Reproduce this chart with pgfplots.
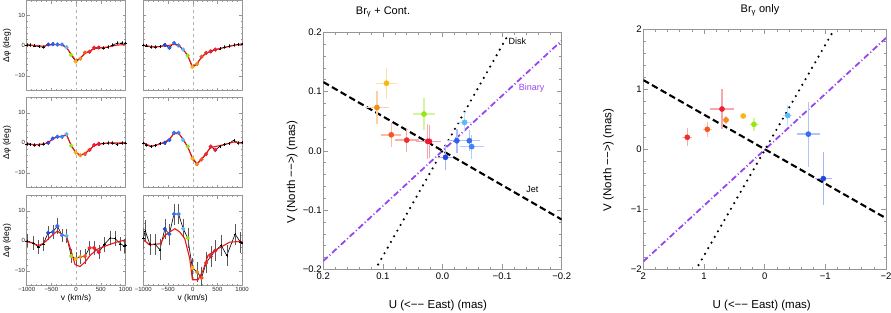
\documentclass[border=0pt]{standalone}
\usepackage{pgfplots}
\pgfplotsset{compat=1.18}
\usepackage{fontspec}
\setmainfont{Liberation Sans}
\definecolor{cA}{RGB}{35,70,225}
\definecolor{cB}{RGB}{45,95,235}
\definecolor{cC}{RGB}{55,110,240}
\definecolor{cD}{RGB}{65,130,245}
\definecolor{cE}{RGB}{90,185,250}
\definecolor{cF}{RGB}{150,230,20}
\definecolor{cG}{RGB}{250,180,20}
\definecolor{cH}{RGB}{245,140,25}
\definecolor{cI}{RGB}{245,85,30}
\definecolor{cJ}{RGB}{240,45,40}
\definecolor{cK}{RGB}{240,30,50}
\definecolor{cL}{RGB}{235,25,55}
\definecolor{fr}{RGB}{150,150,150}
\definecolor{binc}{RGB}{150,70,240}
\definecolor{modred}{RGB}{240,20,20}
\pgfplotsset{
 smallp/.style={
  scale only axis, width=98.8pt, height=90pt, anchor=north west,
  xmin=-1000, xmax=1000, ymin=-15, ymax=15,
  xtick={-1000,-500,0,500,1000}, ytick={-10,0,10},
  minor x tick num=4, minor y tick num=4,
  xticklabels={}, yticklabels={},
  tick align=inside,
  axis line style={draw=fr, line width=0.6pt},
  every tick/.style={fr, line width=0.4pt},
  major tick length=3pt, minor tick length=1.6pt,
  tick label style={font=\fontsize{6}{7}\selectfont, text=black!85, inner sep=1.5pt},
  label style={font=\fontsize{8.5}{9}\selectfont},
  ylabel style={at={(axis description cs:-0.2,0.5)}, anchor=center},
  xlabel style={at={(axis description cs:0.5,-0.145)}, anchor=center},
 },
 leftcol/.style={yticklabels={−10,0,10}, ylabel={Δφ (deg)}},
 botrow/.style={xticklabels={−1000,−500,0,500,1000}, xlabel={v (km/s)}},
 blk/.style={black, line width=0.6pt, mark=+, mark size=1.2pt, mark options={line width=0.35pt},
   error bars/.cd, y dir=both, y explicit, error bar style={black!65, line width=0.35pt}, error mark=none},
 mdl/.style={modred, line width=1.1pt},
 zl/.style={gray!60, dashed, line width=0.4pt},
 colpts/.style={scatter, only marks, scatter src=explicit symbolic, mark=*, mark size=1.9pt,
   scatter/classes={a={draw=cA,fill=cA}, b={draw=cB,fill=cB}, c={draw=cC,fill=cC}, d={draw=cD,fill=cD},
   e={draw=cE,fill=cE}, f={draw=cF,fill=cF}, g={draw=cG,fill=cG}, h={draw=cH,fill=cH},
   i={draw=cI,fill=cI}, j={draw=cJ,fill=cJ}, k={draw=cK,fill=cK}, l={draw=cL,fill=cL}}},
 bigp/.style={
  scale only axis, anchor=north west,
  ymin=-0.2, ymax=0.2, x dir=reverse,
  minor x tick num=4, minor y tick num=4,
  tick align=inside,
  axis line style={draw=fr, line width=0.7pt},
  every tick/.style={fr, line width=0.5pt},
  major tick length=5pt, minor tick length=2.5pt,
  tick label style={font=\fontsize{9.5}{11}\selectfont, inner sep=1.5pt},
  xticklabel style={yshift=-2pt},
  label style={font=\fontsize{11.5}{13}\selectfont},
  xlabel={U (<−− East) (mas)}, ylabel={V (North −−>) (mas)},
 },
 jet/.style={black, line width=2.1pt, dash pattern=on 6.5pt off 3.5pt},
 bin/.style={binc, line width=1.8pt, dash pattern=on 6pt off 2.5pt on 1pt off 2.5pt},
 dsk/.style={black, line width=2.4pt, line cap=round, dash pattern=on 0pt off 6.5pt},
}
\newcommand{\errpt}[3]{\addplot[only marks, mark=*, mark size=2.6pt, color=#1,
  error bars/.cd, x dir=both, x explicit, y dir=both, y explicit,
  error bar style={draw=#1!40!white, line width=1.4pt}, error mark=none]
  coordinates {(#2) +- (#3)};}
\begin{document}
\begin{tikzpicture}
\useasboundingbox (0pt,0pt) rectangle (891pt,-313pt);
% ---------- panel 1
\begin{axis}[smallp, leftcol, at={(26.7pt,-0.7pt)}]
\addplot[zl] coordinates {(0,-15) (0,15)};
\addplot[blk] table[x=v,y=p,y error=e,row sep=\\]{v p e\\
-1000 0.3 0.6\\ -937 0.2 0.6\\ -844 0.0 0.6\\ -751 -0.3 0.6\\ -658 -0.5 0.6\\ -565 0.4 0.6\\ -472 0.5 0.6\\ -379 0.4 0.6\\ -286 0.4 0.6\\ -193 -0.5 0.6\\ -100 -3.1 0.6\\ -7 -5.3 0.6\\ 86 -4.3 0.6\\ 179 -2.3 0.6\\ 272 -2.0 0.6\\ 365 -0.7 0.6\\ 458 -0.6 0.6\\ 551 -0.8 0.6\\ 644 -0.5 0.6\\ 737 0.2 0.6\\ 830 0.8 0.6\\ 923 0.9 0.6\\ 1000 0.8 0.6\\};
\addplot[mdl] coordinates {(-1000,0.3) (-844,0.1) (-658,-0.2) (-565,0.2) (-379,0.4) (-286,0.2) (-193,-0.6) (-100,-2.8) (-7,-5.0) (86,-4.2) (179,-2.6) (272,-1.8) (365,-1.0) (458,-0.8) (644,-0.4) (830,0.2) (1000,0.4)};
\addplot[colpts] table[x=v,y=p,meta=c,row sep=\\]{v p c\\
-565 0.4 a\\ -472 0.5 b\\ -379 0.4 c\\ -286 0.4 d\\ -193 -0.5 e\\ -100 -3.1 f\\ -7 -5.3 g\\ 86 -4.3 h\\ 179 -2.3 i\\ 272 -2.0 j\\ 365 -0.7 k\\ 458 -0.6 l\\};
\end{axis}
% ---------- panel 2
\begin{axis}[smallp, at={(143.3pt,-0.7pt)}]
\addplot[zl] coordinates {(0,-15) (0,15)};
\addplot[blk] table[x=v,y=p,y error=e,row sep=\\]{v p e\\
-1000 0.2 0.6\\ -937 0.0 0.6\\ -844 -0.5 0.6\\ -751 -0.4 0.6\\ -658 -0.3 0.6\\ -565 0.2 0.6\\ -472 -0.7 0.6\\ -379 0.9 0.6\\ -286 0.1 0.6\\ -193 -1.3 0.6\\ -100 -3.3 0.6\\ -7 -7.3 0.6\\ 86 -6.1 0.6\\ 179 -3.7 0.6\\ 272 -2.4 0.6\\ 365 -1.9 0.6\\ 458 -1.3 0.6\\ 551 -1.0 0.6\\ 644 -0.5 0.6\\ 737 -0.2 0.6\\ 830 0.2 0.6\\ 923 0.4 0.6\\ 1000 0.6 0.6\\};
\addplot[mdl] coordinates {(-1000,0.2) (-844,-0.3) (-658,-0.3) (-565,0) (-472,0.1) (-379,0.5) (-286,0) (-193,-1.2) (-100,-3.3) (-7,-6.9) (86,-6.0) (179,-3.8) (272,-2.6) (365,-1.8) (458,-1.3) (644,-0.6) (830,0.1) (1000,0.6)};
\addplot[colpts] table[x=v,y=p,meta=c,row sep=\\]{v p c\\
-565 0.2 a\\ -472 -0.7 b\\ -379 0.9 c\\ -286 0.1 d\\ -193 -1.3 e\\ -100 -3.3 f\\ -7 -7.1 g\\ 86 -6.1 h\\ 179 -3.7 i\\ 272 -2.4 j\\ 365 -1.9 k\\ 458 -1.3 l\\};
\end{axis}
% ---------- panel 3
\begin{axis}[smallp, leftcol, at={(26.7pt,-97.7pt)}]
\addplot[zl] coordinates {(0,-15) (0,15)};
\addplot[blk] table[x=v,y=p,y error=e,row sep=\\]{v p e\\
-1000 -0.4 0.6\\ -937 -0.6 0.6\\ -844 -0.7 0.6\\ -751 -0.7 0.6\\ -658 -0.5 0.6\\ -565 0.0 0.6\\ -472 1.4 0.6\\ -379 2.0 0.6\\ -286 2.0 0.6\\ -193 2.9 0.6\\ -100 -1.0 0.6\\ -7 -3.3 0.6\\ 86 -4.2 0.6\\ 179 -3.7 0.6\\ 272 -2.4 0.6\\ 365 -0.8 0.6\\ 458 -0.4 0.6\\ 551 -0.2 0.6\\ 644 -0.1 0.6\\ 737 0.0 0.6\\ 830 -0.6 0.6\\ 923 0.0 0.6\\ 1000 0.0 0.6\\};
\addplot[mdl] coordinates {(-1000,-0.3) (-844,-0.7) (-658,-0.4) (-565,0.1) (-472,1.2) (-379,2.0) (-286,2.1) (-193,2.5) (-100,-0.8) (-7,-3.3) (86,-4.1) (179,-3.6) (272,-2.3) (365,-1.0) (458,-0.5) (644,-0.1) (830,-0.1) (1000,0)};
\addplot[colpts] table[x=v,y=p,meta=c,row sep=\\]{v p c\\
-565 0.0 a\\ -472 1.4 b\\ -379 2.0 c\\ -286 2.0 d\\ -193 2.9 e\\ -100 -1.0 f\\ -7 -3.3 g\\ 86 -4.2 h\\ 179 -3.7 i\\ 272 -2.4 j\\ 365 -0.8 k\\ 458 -0.4 l\\};
\end{axis}
% ---------- panel 4
\begin{axis}[smallp, at={(143.3pt,-97.7pt)}]
\addplot[zl] coordinates {(0,-15) (0,15)};
\addplot[blk] table[x=v,y=p,y error=e,row sep=\\]{v p e\\
-1000 0.0 0.6\\ -937 -0.8 0.6\\ -844 -1.3 0.6\\ -751 -0.9 0.6\\ -658 -0.3 0.6\\ -565 0.0 0.6\\ -472 0.9 0.6\\ -379 3.3 0.6\\ -286 3.3 0.6\\ -193 0.9 0.6\\ -100 -1.3 0.6\\ -7 -5.3 0.6\\ 86 -7.2 0.6\\ 179 -5.6 0.6\\ 272 -3.8 0.6\\ 365 -1.3 0.6\\ 458 -2.4 0.6\\ 551 -1.2 0.6\\ 644 -0.6 0.6\\ 737 -0.2 0.6\\ 830 0.8 0.6\\ 923 0.0 0.6\\ 1000 0.1 0.6\\};
\addplot[mdl] coordinates {(-1000,0) (-844,-1.2) (-658,-0.4) (-565,0.2) (-472,1.2) (-379,3.0) (-286,3.1) (-193,1.2) (-100,-1.5) (-7,-5.0) (86,-7.0) (179,-5.5) (272,-3.5) (365,-1.6) (458,-1.3) (644,-0.6) (830,0.2) (1000,0)};
\addplot[colpts] table[x=v,y=p,meta=c,row sep=\\]{v p c\\
-565 0.0 a\\ -472 0.9 b\\ -379 3.3 c\\ -286 3.3 d\\ -193 0.9 e\\ -100 -1.3 f\\ -7 -5.3 g\\ 86 -7.2 h\\ 179 -5.6 i\\ 272 -3.8 j\\ 365 -1.3 k\\ 458 -2.4 l\\};
\end{axis}
% ---------- panel 5
\begin{axis}[smallp, leftcol, botrow, at={(26.7pt,-195.7pt)}]
\addplot[zl] coordinates {(0,-15) (0,15)};
\addplot[blk] table[x=v,y=p,y error=e,row sep=\\]{v p e\\
-1000 0.0 2.2\\ -866 -0.8 2.4\\ -765 -2.1 2.4\\ -663 -1.0 2.4\\ -565 2.6 2.2\\ -472 2.9 2.4\\ -379 4.9 2.6\\ -286 1.8 2.2\\ -193 1.6 2.2\\ -100 -5.1 2.2\\ -7 -6.0 2.2\\ 86 -5.4 2.2\\ 179 -5.2 2.4\\ 272 -2.4 2.4\\ 365 -2.4 2.4\\ 458 -3.8 2.4\\ 574 -1.2 2.4\\ 690 0.9 2.4\\ 791 0.7 2.4\\ 893 -1.0 2.4\\ 974 -1.8 2.4\\ 1000 -1.6 2.4\\};
\addplot[mdl] coordinates {(-1000,-0.3) (-880,-0.8) (-765,-1.6) (-660,-0.9) (-565,0.6) (-472,2.0) (-379,3.2) (-286,2.1) (-193,1.4) (-100,-3.5) (-20,-8.0) (81,-8.6) (183,-7.1) (284,-4.9) (419,-2.9) (656,-1.4) (850,-0.3) (1000,0.2)};
\addplot[colpts] table[x=v,y=p,meta=c,row sep=\\]{v p c\\
-565 2.6 a\\ -472 2.9 b\\ -379 4.9 c\\ -286 1.8 d\\ -193 1.6 e\\ -100 -5.1 f\\ -7 -6.0 g\\ 86 -5.4 h\\ 179 -5.2 i\\ 272 -2.4 j\\ 365 -2.4 k\\ 458 -3.8 l\\};
\end{axis}
% ---------- panel 6
\begin{axis}[smallp, botrow, at={(143.3pt,-195.7pt)}]
\addplot[zl] coordinates {(0,-15) (0,15)};
\addplot[blk] table[x=v,y=p,y error=e,row sep=\\]{v p e\\
-1000 0.9 3.5\\ -960 3.3 3.5\\ -865 -1.3 3.5\\ -765 -1.1 3.5\\ -664 -3.0 3.5\\ -565 3.9 3.2\\ -472 2.2 3.5\\ -379 8.9 3.5\\ -286 8.9 3.2\\ -193 4.0 3.2\\ -100 0.9 3.2\\ -7 -9.1 3.2\\ 86 -10.4 3.2\\ 179 -12.4 3.5\\ 272 -7.4 3.5\\ 365 -5.2 3.5\\ 458 -3.3 3.5\\ 577 -1.6 3.5\\ 690 -4.9 3.5\\ 859 2.2 3.5\\ 966 -0.5 3.5\\ 1000 -0.8 3.5\\};
\addplot[mdl] coordinates {(-1000,0.5) (-880,-1.4) (-650,-1.0) (-563,1.8) (-362,4.0) (-262,2.9) (-161,0.7) (-60,-6) (-6,-13.0) (108,-13.0) (208,-10) (309,-4.9) (510,-2.7) (745,-0.5) (1000,-0.2)};
\addplot[colpts] table[x=v,y=p,meta=c,row sep=\\]{v p c\\
-565 3.9 a\\ -472 2.2 b\\ -379 8.9 c\\ -286 8.9 d\\ -193 4.0 e\\ -100 0.9 f\\ -7 -9.1 g\\ 86 -10.4 h\\ 179 -12.4 i\\ 272 -7.4 j\\ 365 -5.2 k\\ 458 -3.3 l\\};
\end{axis}
% ---------- middle
\begin{axis}[bigp, at={(323.3pt,-32.3pt)}, width=238.4pt, height=237pt,
  xmin=-0.2, xmax=0.2,
  xtick={-0.2,-0.1,0,0.1,0.2}, xticklabels={−0.2,−0.1,0.0,0.1,0.2},
  ytick={-0.2,-0.1,0,0.1,0.2}, yticklabels={−0.2,−0.1,0.0,0.1,0.2},
  ylabel style={at={(axis description cs:-0.131,0.411)}, anchor=center},
  xlabel style={at={(axis description cs:0.481,-0.151)}, anchor=center}]
\addplot[jet] coordinates {(0.2,0.116) (-0.2,-0.116)};
\addplot[bin] coordinates {(0.2,-0.186) (-0.2,0.186)};
\addplot[dsk] coordinates {(0.108,-0.192) (-0.112,0.199)};
\node[font=\fontsize{9}{10}\selectfont] at (axis cs:-0.1255,0.184) {Disk};
\node[font=\fontsize{9}{10}\selectfont, text=binc] at (axis cs:-0.1497,0.1055) {Binary};
\node[font=\fontsize{9}{10}\selectfont] at (axis cs:-0.1507,-0.0645) {Jet};
\errpt{cG}{0.094,0.114}{0.018,0.026}
\errpt{cH}{0.110,0.073}{0.02,0.028}
\errpt{cF}{0.031,0.062}{0.018,0.027}
\errpt{cI}{0.086,0.027}{0.017,0.02}
\errpt{cJ}{0.060,0.018}{0.02,0.02}
\errpt{cK}{0.025,0.016}{0.02,0.03}
\errpt{cL}{0.022,0.016}{0.02,0.028}
\errpt{cE}{-0.037,0.048}{0.012,0.017}
\errpt{cC}{-0.045,0.017}{0.018,0.018}
\errpt{cD}{-0.049,0.007}{0.02,0.02}
\errpt{cB}{-0.024,0.017}{0.015,0.02}
\errpt{cA}{-0.005,-0.011}{0.012,0.022}
\end{axis}
% ---------- right
\begin{axis}[bigp, at={(643.3pt,-29pt)}, width=242.7pt, height=240.3pt,
  xmin=-2, xmax=2, ymin=-2, ymax=2,
  xtick={-2,-1,0,1,2}, xticklabels={−2,−1,0,1,2},
  ytick={-2,-1,0,1,2}, yticklabels={−2,−1,0,1,2},
  ylabel style={at={(axis description cs:-0.144,0.455)}, anchor=center},
  xlabel style={at={(axis description cs:0.488,-0.149)}, anchor=center}]
\addplot[jet] coordinates {(2,1.15) (-2,-1.15)};
\addplot[bin] coordinates {(2,-1.87) (-2,1.85)};
\addplot[dsk] coordinates {(1.09,-1.93) (-1.15,2.0)};
\errpt{cJ}{1.275,0.197}{0.08,0.15}
\errpt{cI}{0.945,0.33}{0.07,0.12}
\errpt{cK}{0.703,0.668}{0.2,0.34}
\errpt{cH}{0.637,0.486}{0.05,0.06}
\errpt{cG}{0.352,0.552}{0.04,0.04}
\errpt{cF}{0.176,0.413}{0.08,0.11}
\errpt{cE}{-0.38,0.56}{0.07,0.17}
\errpt{cC}{-0.72,0.25}{0.19,0.54}
\errpt{cA}{-0.967,-0.49}{0.14,0.44}
\end{axis}
\node[font=\fontsize{11}{12}\selectfont] at (383pt,-12pt) {Br\textsubscript{γ} + Cont.};
\node[font=\fontsize{11}{12}\selectfont] at (760pt,-10pt) {Br\textsubscript{γ} only};
\end{tikzpicture}
\end{document}
